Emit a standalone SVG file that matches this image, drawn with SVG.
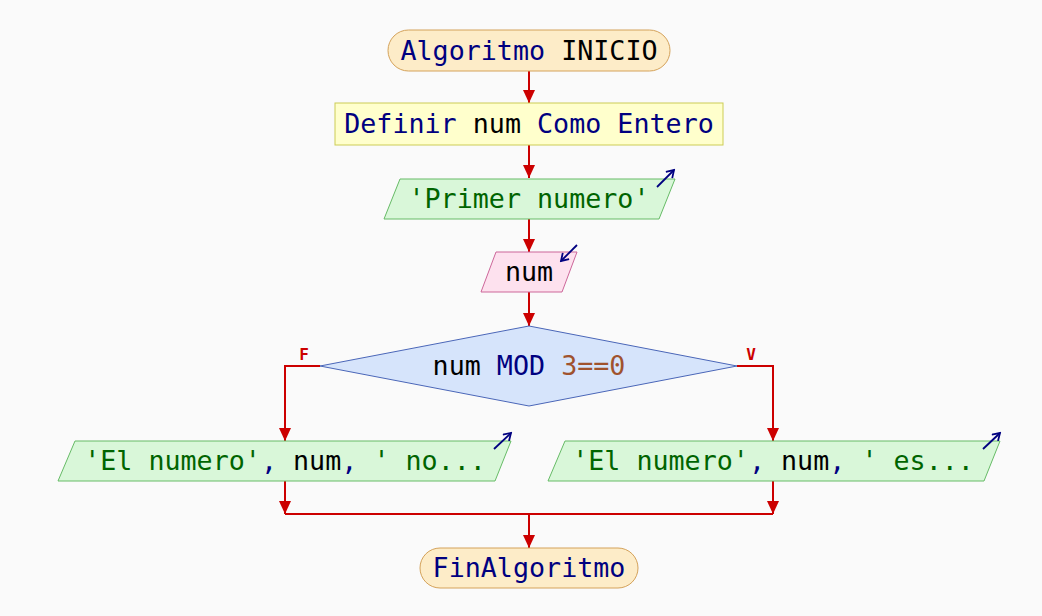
<svg xmlns="http://www.w3.org/2000/svg" width="1042" height="616" viewBox="0 0 1042 616">
<style>
text{font-family:"DejaVu Sans Mono","Liberation Mono",monospace;font-size:26.7px;text-anchor:middle;white-space:pre}
.kw{fill:#000080}.id{fill:#000000}.st{fill:#006400}.nu{fill:#a0522d}
.term{fill:#fdecc8;stroke:#d4a25a;stroke-width:1}
.proc{fill:#ffffcc;stroke:#cccc55;stroke-width:1}
.out{fill:#d9f7d9;stroke:#66bb66;stroke-width:1}
.inp{fill:#fde1ee;stroke:#cc6699;stroke-width:1}
.dec{fill:#d6e4fb;stroke:#4a66b8;stroke-width:1}
.con{fill:none;stroke:#cc0000;stroke-width:2}
.ico{fill:none;stroke:#000080;stroke-width:1.8}
.lab{font-size:16px;fill:#cc0000;font-weight:bold}
</style>
<defs>
<marker id="ah" markerWidth="14" markerHeight="12" refX="13" refY="6" orient="auto" markerUnits="userSpaceOnUse">
<path d="M0,0 L13,6 L0,12 z" fill="#cc0000"/>
</marker>
<marker id="ih" markerWidth="10" markerHeight="10" refX="8" refY="5" orient="auto" markerUnits="userSpaceOnUse">
<path d="M1,0.5 L8,5 L1,9.5" fill="none" stroke="#000080" stroke-width="1.8"/>
</marker>
</defs>
<rect width="1042" height="616" fill="#fafafa"/>
<g id="connectors">
<line class="con" x1="529" y1="71" x2="529" y2="103" marker-end="url(#ah)"/>
<line class="con" x1="529" y1="145" x2="529" y2="178" marker-end="url(#ah)"/>
<line class="con" x1="529" y1="219" x2="529" y2="252" marker-end="url(#ah)"/>
<line class="con" x1="529" y1="292" x2="529" y2="326" marker-end="url(#ah)"/>
<polyline class="con" points="320,366 285,366 285,441" marker-end="url(#ah)"/>
<polyline class="con" points="737,366 773,366 773,441" marker-end="url(#ah)"/>
<line class="con" x1="285" y1="481" x2="285" y2="514" marker-end="url(#ah)"/>
<line class="con" x1="773" y1="481" x2="773" y2="514" marker-end="url(#ah)"/>
<line class="con" x1="285" y1="514" x2="773" y2="514"/>
<line class="con" x1="529" y1="514" x2="529" y2="548" marker-end="url(#ah)"/>
<text class="lab" x="304" y="360">F</text>
<text class="lab" x="751" y="360">V</text>
</g>
<g id="start">
<rect class="term" x="388" y="30" width="282" height="41" rx="20.5"/>
<text x="529" y="60"><tspan class="kw">Algoritmo</tspan><tspan class="id"> INICIO</tspan></text>
</g>
<g id="define">
<rect class="proc" x="335" y="103" width="388" height="42"/>
<text x="529" y="133"><tspan class="kw">Definir</tspan><tspan class="id"> num </tspan><tspan class="kw">Como Entero</tspan></text>
</g>
<g id="out1">
<polygon class="out" points="400,179 675,179 659,219 384,219"/>
<text x="529" y="208" class="st">'Primer numero'</text>
<line class="ico" x1="657" y1="187" x2="674" y2="170" marker-end="url(#ih)"/>
</g>
<g id="in1">
<polygon class="inp" points="496,252 577,252 562,292 481,292"/>
<text x="529" y="281" class="id">num</text>
<line class="ico" x1="577" y1="245" x2="561" y2="261" marker-end="url(#ih)"/>
</g>
<g id="decision">
<polygon class="dec" points="529,326 737,366 529,406 320,366"/>
<text x="529" y="375"><tspan class="id">num </tspan><tspan class="kw">MOD </tspan><tspan class="nu">3==0</tspan></text>
</g>
<g id="outF">
<polygon class="out" points="75,441 511,441 495,481 58,481"/>
<text x="285" y="470"><tspan class="st">'El numero'</tspan><tspan class="kw">, </tspan><tspan class="id">num</tspan><tspan class="kw">, </tspan><tspan class="st">' no...</tspan></text>
<line class="ico" x1="494" y1="449" x2="511" y2="433" marker-end="url(#ih)"/>
</g>
<g id="outV">
<polygon class="out" points="565,441 1000,441 984,481 548,481"/>
<text x="773" y="470"><tspan class="st">'El numero'</tspan><tspan class="kw">, </tspan><tspan class="id">num</tspan><tspan class="kw">, </tspan><tspan class="st">' es...</tspan></text>
<line class="ico" x1="983" y1="449" x2="1000" y2="433" marker-end="url(#ih)"/>
</g>
<g id="end">
<rect class="term" x="420" y="548" width="218" height="40" rx="20"/>
<text x="529" y="577" class="kw">FinAlgoritmo</text>
</g>
</svg>
